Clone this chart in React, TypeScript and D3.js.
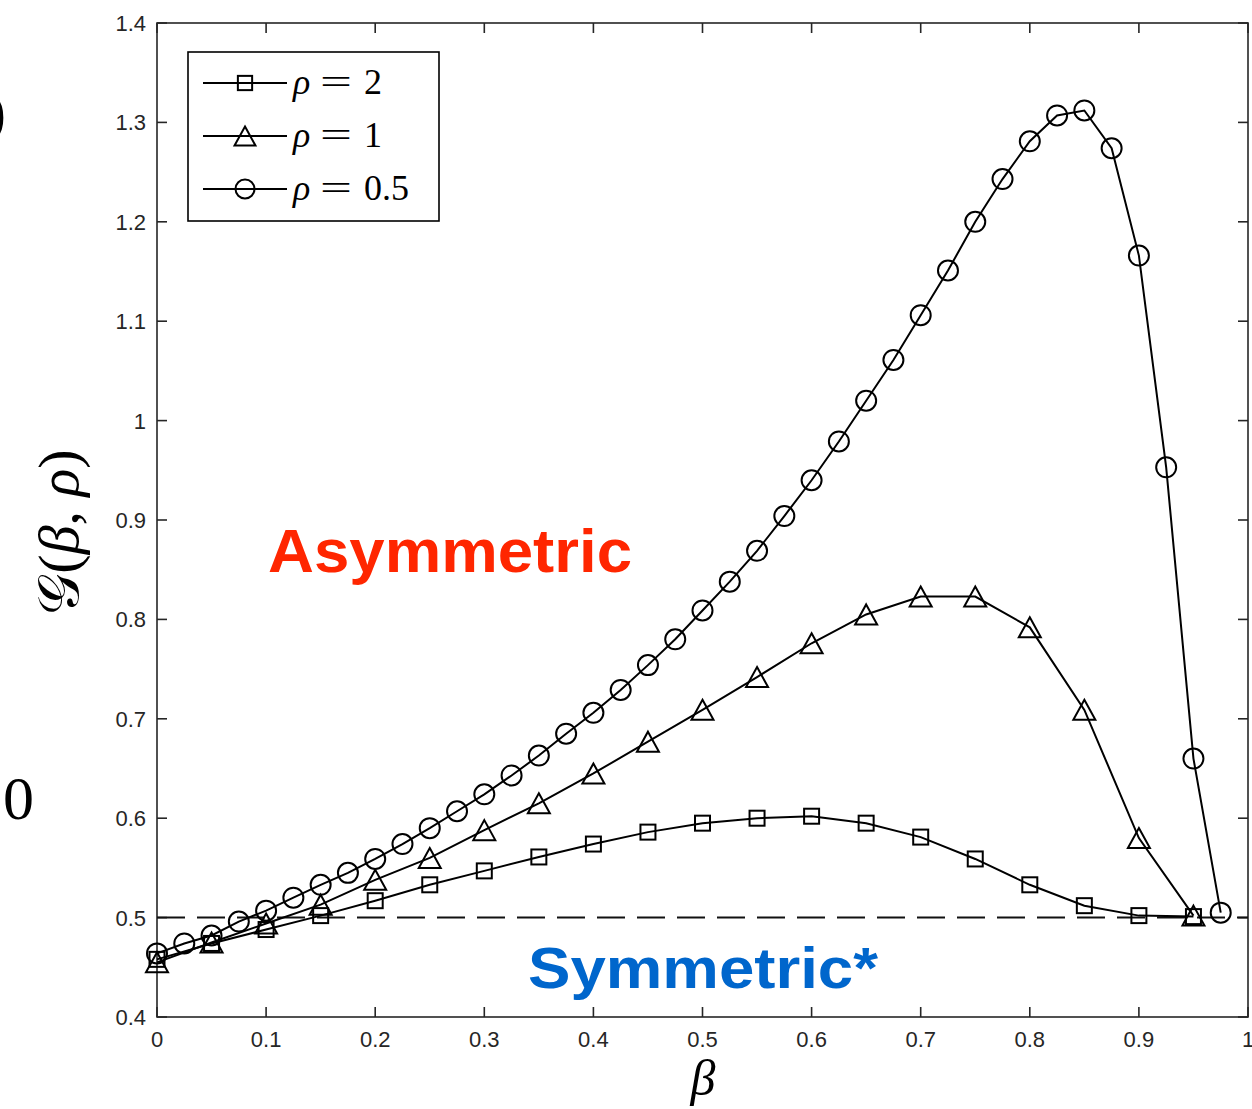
import React, { useEffect, useRef } from 'react';
import * as d3 from 'd3';

// β grid and G(β, ρ) values
const betaFine = [
  0, 0.025, 0.05, 0.075, 0.1, 0.125, 0.15, 0.175, 0.2, 0.225, 0.25, 0.275, 0.3, 0.325,
  0.35, 0.375, 0.4, 0.425, 0.45, 0.475, 0.5, 0.525, 0.55, 0.575, 0.6, 0.625, 0.65, 0.675,
  0.7, 0.725, 0.75, 0.775, 0.8, 0.825, 0.85, 0.875, 0.9, 0.925, 0.95, 0.975,
];
const betaCoarse = [
  0, 0.05, 0.1, 0.15, 0.2, 0.25, 0.3, 0.35, 0.4, 0.45, 0.5, 0.55, 0.6, 0.65, 0.7, 0.75,
  0.8, 0.85, 0.9, 0.95,
];

const rho2 = [
  0.458, 0.474, 0.488, 0.502, 0.517, 0.533, 0.547, 0.561, 0.574, 0.586, 0.595, 0.6, 0.602,
  0.595, 0.581, 0.559, 0.533, 0.512, 0.502, 0.501,
];
const rho1 = [
  0.455, 0.475, 0.494, 0.513, 0.538, 0.56, 0.588, 0.615, 0.645, 0.677, 0.709, 0.742, 0.776,
  0.805, 0.823, 0.823, 0.792, 0.709, 0.58, 0.502,
];
const rhoHalf = [
  0.464, 0.474, 0.482, 0.496, 0.507, 0.52, 0.533, 0.545, 0.559, 0.574, 0.59, 0.607, 0.624,
  0.643, 0.663, 0.685, 0.706, 0.729, 0.754, 0.78, 0.809, 0.838, 0.869, 0.904, 0.94, 0.979,
  1.02, 1.061, 1.106, 1.151, 1.2, 1.243, 1.281, 1.307, 1.312, 1.274, 1.166, 0.953, 0.66,
  0.505,
];

const xTicks = [0, 0.1, 0.2, 0.3, 0.4, 0.5, 0.6, 0.7, 0.8, 0.9, 1];
const yTicks = [0.4, 0.5, 0.6, 0.7, 0.8, 0.9, 1, 1.1, 1.2, 1.3, 1.4];
const legendLabels = ['2', '1', '0.5'];

const W = 1252;
const H = 1109;
const axisColor = '#262626';

type Marker = 'square' | 'triangle' | 'circle';

function drawMarker(g: d3.Selection<SVGGElement, unknown, null, undefined>, kind: Marker, x: number, y: number, s = 1) {
  if (kind === 'square') {
    const h = 7.5 * s;
    g.append('rect').attr('x', x - h).attr('y', y - h).attr('width', 2 * h).attr('height', 2 * h);
  } else if (kind === 'circle') {
    g.append('circle').attr('cx', x).attr('cy', y).attr('r', 10 * s);
  } else {
    const w = 11 * s;
    const h = 10 * s;
    g.append('path').attr('d', `M${x},${y - h}L${x + w},${y + h}L${x - w},${y + h}Z`);
  }
}

const App = () => {
  const svgRef = useRef<SVGSVGElement>(null);

  useEffect(() => {
    const svg = d3.select(svgRef.current);
    svg.selectAll('*').remove();

    const x = d3.scaleLinear().domain([0, 1]).range([157, 1248]);
    const y = d3.scaleLinear().domain([0.4, 1.4]).range([1017, 23]);

    // ── Cropped bits of the neighbouring panel ────────────────────────
    svg.append('text').attr('x', -14).attr('y', 132).style('font-family', 'Liberation Serif')
      .style('font-size', '60px').text(')');
    svg.append('text').attr('x', 3).attr('y', 819).style('font-family', 'Liberation Serif')
      .style('font-size', '62px').text('0');

    // ── Axes box + ticks ───────────────────────────────────────────────
    const ax = svg.append('g').attr('stroke', axisColor).attr('stroke-width', 1.6);
    ax.append('rect').attr('x', x(0)).attr('y', y(1.4)).attr('width', x(1) - x(0))
      .attr('height', y(0.4) - y(1.4)).attr('fill', 'none');
    xTicks.forEach((t) => {
      ax.append('line').attr('x1', x(t)).attr('x2', x(t)).attr('y1', y(0.4)).attr('y2', y(0.4) - 10);
      ax.append('line').attr('x1', x(t)).attr('x2', x(t)).attr('y1', y(1.4)).attr('y2', y(1.4) + 10);
    });
    yTicks.forEach((t) => {
      ax.append('line').attr('x1', x(0)).attr('x2', x(0) + 10).attr('y1', y(t)).attr('y2', y(t));
      ax.append('line').attr('x1', x(1)).attr('x2', x(1) - 10).attr('y1', y(t)).attr('y2', y(t));
    });

    const tl = svg.append('g').attr('fill', axisColor)
      .style('font-family', 'Liberation Sans, Arial, sans-serif').style('font-size', '22px');
    xTicks.forEach((t) => {
      tl.append('text').attr('x', x(t)).attr('y', 1047).attr('text-anchor', 'middle').text(d3.format('~g')(t));
    });
    yTicks.forEach((t) => {
      tl.append('text').attr('x', 146).attr('y', y(t)).attr('dy', '0.36em').attr('text-anchor', 'end')
        .text(d3.format('~g')(t));
    });

    // ── Dashed reference at 0.5 ────────────────────────────────────────
    svg.append('line').attr('x1', x(0)).attr('x2', x(1)).attr('y1', y(0.5)).attr('y2', y(0.5))
      .attr('stroke', '#111').attr('stroke-width', 2).attr('stroke-dasharray', '28,12');

    // ── Series ─────────────────────────────────────────────────────────
    const series: { xs: number[]; ys: number[]; kind: Marker }[] = [
      { xs: betaCoarse, ys: rho2, kind: 'square' },
      { xs: betaCoarse, ys: rho1, kind: 'triangle' },
      { xs: betaFine, ys: rhoHalf, kind: 'circle' },
    ];
    series.forEach((s) => {
      const pts = s.xs.map((b, i) => [x(b), y(s.ys[i])] as [number, number]);
      svg.append('path').attr('d', d3.line()(pts)).attr('fill', 'none')
        .attr('stroke', '#000').attr('stroke-width', 2);
      const mg = svg.append('g').attr('fill', 'none').attr('stroke', '#000').attr('stroke-width', 2);
      pts.forEach(([px, py]) => drawMarker(mg, s.kind, px, py));
    });

    // ── Legend ─────────────────────────────────────────────────────────
    const lg = svg.append('g');
    lg.append('rect').attr('x', 188).attr('y', 52).attr('width', 251).attr('height', 169)
      .attr('fill', '#fff').attr('stroke', '#000').attr('stroke-width', 1.6);
    const rowY = [83, 136, 189];
    const kinds: Marker[] = ['square', 'triangle', 'circle'];
    legendLabels.forEach((lab, i) => {
      lg.append('line').attr('x1', 203).attr('x2', 287).attr('y1', rowY[i]).attr('y2', rowY[i])
        .attr('stroke', '#000').attr('stroke-width', 2);
      const mg = lg.append('g').attr('fill', 'none').attr('stroke', '#000').attr('stroke-width', 2);
      drawMarker(mg, kinds[i], 245, rowY[i], 0.95);
      const font = (s: d3.Selection<SVGTextElement, unknown, null, undefined>) =>
        s.attr('y', rowY[i] + 11).style('font-family', 'Liberation Serif, serif').style('font-size', '36px');
      lg.append('text').attr('x', 293).call(font).style('font-style', 'italic').text('ρ');
      lg.append('text').attr('x', 320).call(font)
        .attr('textLength', 32).attr('lengthAdjust', 'spacingAndGlyphs').text('=');
      lg.append('text').attr('x', 364).call(font).text(lab);
    });

    // ── Region annotations ─────────────────────────────────────────────
    svg.append('text').attr('x', 268).attr('y', 572).attr('fill', '#FF2600')
      .attr('textLength', 364).attr('lengthAdjust', 'spacingAndGlyphs')
      .style('font-family', 'Liberation Sans, Arial, sans-serif').style('font-weight', 'bold')
      .style('font-size', '61px').text('Asymmetric');
    svg.append('text').attr('x', 528).attr('y', 988).attr('fill', '#0066CC')
      .attr('textLength', 350).attr('lengthAdjust', 'spacingAndGlyphs')
      .style('font-family', 'Liberation Sans, Arial, sans-serif').style('font-weight', 'bold')
      .style('font-size', '57px').text('Symmetric*');

    // ── Axis titles ────────────────────────────────────────────────────
    svg.append('text').attr('x', 703).attr('y', 1095).attr('text-anchor', 'middle')
      .style('font-family', 'Liberation Serif, serif').style('font-style', 'italic')
      .style('font-size', '50px').text('β');
    const yl = svg.append('text').attr('transform', 'translate(78,532) rotate(-90)')
      .attr('text-anchor', 'middle').style('font-family', 'Liberation Serif, serif')
      .style('font-size', '58px');
    yl.append('tspan').text('𝒢');
    yl.append('tspan').text('(');
    yl.append('tspan').style('font-style', 'italic').text('β');
    yl.append('tspan').text(', ');
    yl.append('tspan').style('font-style', 'italic').text('ρ');
    yl.append('tspan').text(')');
  }, []);

  return (
    <svg
      ref={svgRef}
      width={W}
      height={H}
      style={{ position: 'absolute', left: 0, top: 0, background: '#fff' }}
    />
  );
};

export default App;
